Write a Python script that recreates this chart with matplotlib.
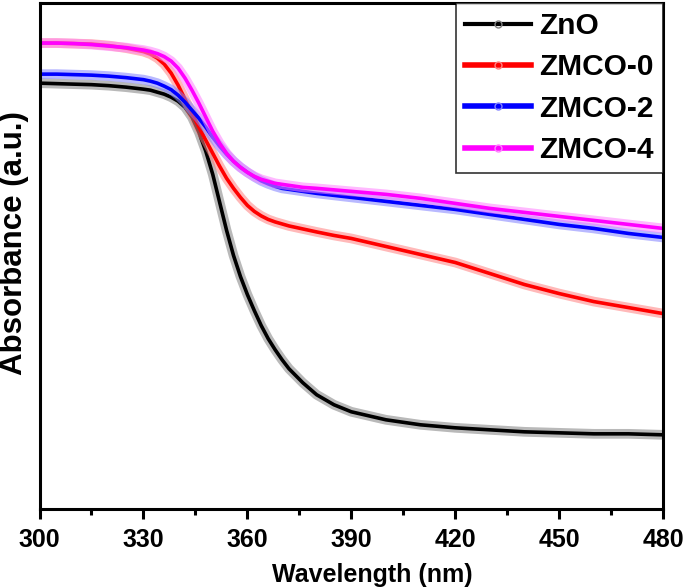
import matplotlib
matplotlib.use("Agg")
import matplotlib.pyplot as plt
import matplotlib.patheffects as pe
from matplotlib.lines import Line2D
from matplotlib.ticker import MultipleLocator

plt.rcParams['font.family'] = ['Liberation Sans', 'DejaVu Sans']
plt.rcParams['font.weight'] = 'bold'

wavelength = [300, 305, 310, 315, 320, 325, 330,
              332, 334, 336, 338, 340, 342, 344, 346, 348, 350, 352, 354, 356, 358,
              360, 362, 364, 366, 368, 370, 372, 374, 376, 378, 380,
              385, 390, 395, 400,
              410, 420, 430, 440, 450, 460, 470, 480]

zno = [425, 424.5, 424, 423.5, 422.5, 421, 419,
       418, 416, 414, 411, 407, 401, 391, 376, 357, 334, 306, 278, 253, 232,
       214, 198, 183, 170, 159, 149, 140, 133, 126, 120, 114,
       104, 97, 93, 89,
       84, 81, 79, 77, 76, 75, 75, 74]
zmco0 = [465, 465, 464.5, 464, 462.5, 460, 456.5,
         454, 450, 444, 435, 423, 409, 395, 381, 368, 355, 342, 330, 320, 311,
         303, 297, 292.5, 289, 286.5, 284.5, 282.5, 281, 279.5, 278, 276.5,
         273, 270, 266, 262,
         254, 246, 235, 224, 215, 207, 201, 195]
zmco2 = [434, 434, 433.5, 433, 432, 430.5, 428.5,
         427, 425, 422, 418.5, 413, 406, 398, 390, 381, 371, 362, 354, 347, 341,
         336, 331.5, 327.5, 324.5, 322, 320, 319, 318, 317, 316, 315,
         313, 311, 309, 307,
         303, 299, 294, 289, 284, 280, 275, 271]
zmco4 = [465, 465, 464.5, 463.5, 462, 460.5, 458,
         456.5, 454.5, 451.5, 447, 440, 430, 418, 405, 391, 377, 365, 355, 347, 341,
         336, 332, 329, 327, 325, 324, 323, 322, 321, 320.5, 320,
         318.5, 317, 315.5, 314,
         310, 305, 300, 296, 292, 288, 284, 280]

labels = ['ZnO', 'ZMCO-0', 'ZMCO-2', 'ZMCO-4']
colors = ['#000000', '#ff0000', '#0000ff', '#ff00ff']
halo = ['#808080', '#ff8080', '#8080ff', '#ff80ff']
xticks = [300, 330, 360, 390, 420, 450, 480]

fig = plt.figure(figsize=(6.85, 5.88), dpi=100)
ax = fig.add_axes([0.0577, 0.1344, 0.9103, 0.8605])

for ys, c, h in zip([zno, zmco0, zmco2, zmco4], colors, halo):
    ax.plot(wavelength, ys, color=c, lw=2.6, solid_joinstyle='round',
            path_effects=[pe.Stroke(linewidth=7, foreground=h, alpha=0.55), pe.Normal()])

ax.set_xlim(300, 480)
ax.set_ylim(0, 505)
ax.set_xticks(xticks)
ax.xaxis.set_minor_locator(MultipleLocator(15))
ax.set_yticks([])
ax.tick_params(axis='x', which='major', direction='out', length=7, width=2.2,
               labelsize=18, pad=7)
ax.tick_params(axis='x', which='minor', direction='out', length=4.5, width=2.2)
for lab in ax.get_xticklabels():
    lab.set_fontweight('bold')
for sp in ax.spines.values():
    sp.set_linewidth(2.2)

ax.set_xlabel('Wavelength (nm)', fontsize=18, fontweight='bold')
ax.xaxis.set_label_coords(0.533, -0.107)
ax.set_ylabel('Absorbance (a.u.)', fontsize=22.5, fontweight='bold')
ax.yaxis.set_label_coords(-0.017, 0.525)

handles = [Line2D([], [], color=c, lw=(3 if i == 0 else 4), marker='o', markersize=5,
                  markerfacecolor='none', markeredgecolor=h, markeredgewidth=1)
           for i, (c, h) in enumerate(zip(colors, halo))]
leg = ax.legend(handles, labels, loc='upper right', bbox_to_anchor=(1.0, 1.0),
                frameon=True, fancybox=False, handlelength=2.2, handletextpad=0.3,
                borderpad=0.3, labelspacing=0.45, borderaxespad=0.0,
                prop={'weight': 'bold', 'size': 21.5})
leg.get_frame().set_edgecolor('black')
leg.get_frame().set_linewidth(1.2)

fig.savefig('out.png', dpi=100)
